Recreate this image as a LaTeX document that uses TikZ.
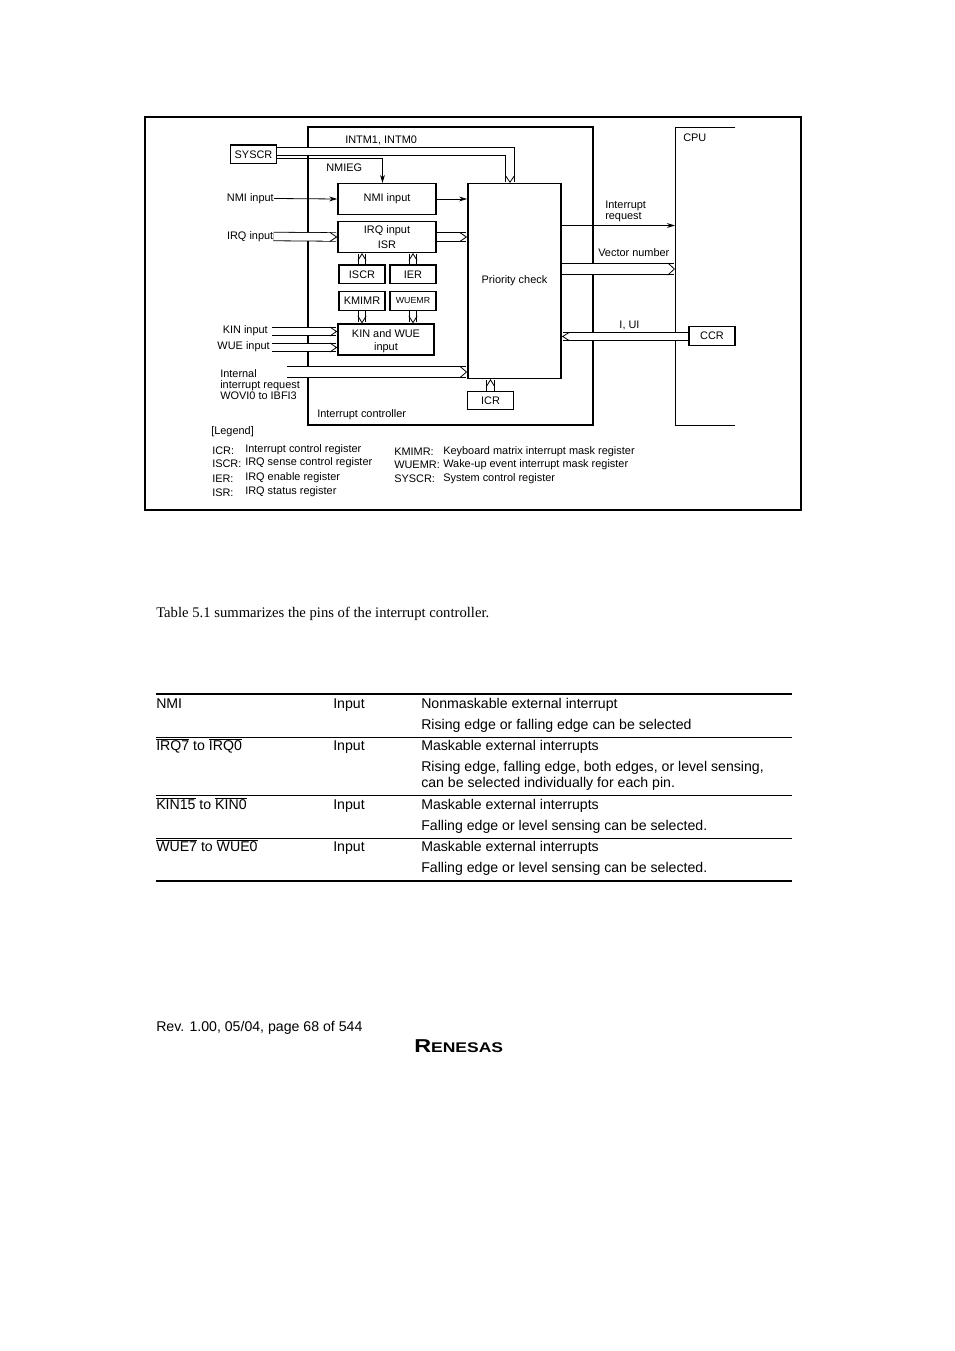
\documentclass[tikz,border=0pt]{standalone}
\usepackage{fontspec}
\setmainfont{Liberation Sans}
\newfontfamily\pageserif{Liberation Serif}
\usetikzlibrary{positioning, arrows.meta}

\begin{document}
\begin{tikzpicture}[x=0.75pt, y=-0.75pt, font=\fontsize{8.2}{8.2}\selectfont, >={Stealth[length=6pt, width=3.6pt]},
    regbox/.style={draw, line width=1pt, inner sep=0pt, minimum width=34.5pt, minimum height=14pt},
    blockbox/.style={draw, line width=1.1pt, inner sep=0pt, align=center},
    lbl/.style={inner sep=0pt, align=left},
    bus/.style={line width=0.6pt, double, double distance=#1, -{Straight Barb[length=5pt, width=#1+1pt]}},
    rowtext/.style={anchor=base west, inner sep=0pt, font=\fontsize{10.6}{10.6}\selectfont}]
  \useasboundingbox (0,0) rectangle (954,1351);
  % Frames
  \draw[line width=1.1pt] (145,117) rectangle (801,510);
  \draw[line width=1.1pt] (308,127) rectangle (593,425);
  \draw[line width=0.7pt] (735,127) -- (675,127) -- (675,425) -- (735,425);
  % Blocks
  \node[regbox] (syscr) at (253.5,154.5) {SYSCR};
  \node[blockbox, minimum width=73.5pt, minimum height=23pt] (nmi) at (387,199) {NMI input};
  \node[blockbox, minimum width=73.5pt, minimum height=23pt] (irq) at (387,237) {};
  \node[lbl] (irqa) at (387,231) {IRQ input};
  \node[lbl] (isr) at (387,245) {ISR};
  \node[regbox] (iscr) at (362,274.5) {ISCR};
  \node[regbox] (ier) at (413,274.5) {IER};
  \node[regbox] (kmimr) at (362,301) {KMIMR};
  \node[regbox, font=\fontsize{6.6}{6.6}\selectfont] (wuemr) at (413,301) {WUEMR};
  \node[blockbox, minimum width=72pt, minimum height=23pt] (kin) at (386,339.5) {};
  \node[lbl] (kina) at (386,334) {KIN and WUE};
  \node[lbl] (kinb) at (386,347.5) {input};
  \node[blockbox, minimum width=70pt, minimum height=146pt] (prio) at (514.5,281) {Priority check};
  \node[regbox, line width=0.9pt] (icr) at (490.5,400.5) {ICR};
  \node[regbox, line width=1pt] (ccr) at (712,336) {CCR};
  % Labels
  \node[lbl, anchor=west] (intm) at (345,140) {INTM1, INTM0};
  \node[lbl, anchor=west] (nmieg) at (326,168) {NMIEG};
  \node[lbl, anchor=east] (nmil) at (274,198.5) {NMI input};
  \node[lbl, anchor=east] (irql) at (273.5,236.5) {IRQ input};
  \node[lbl, anchor=east] (kinl) at (268,331) {KIN input};
  \node[lbl, anchor=east] (wuel) at (270,347) {WUE input};
  \node[lbl, anchor=west] (intl) at (220,385) {Internal\\interrupt request\\WOVI0 to IBFI3};
  \node[lbl, anchor=west] (ctrl) at (317,415) {Interrupt controller};
  \node[lbl, anchor=west] (cpu) at (683,138) {CPU};
  \node[lbl, anchor=west] (req) at (605,211.5) {Interrupt\\request};
  \node[lbl, anchor=west] (vec) at (598,252.5) {Vector number};
  \node[lbl] (iui) at (629.5,325) {I, UI};
  % Free ends
  \coordinate (busend) at (287,372);
  \coordinate (vecy) at (0,269);
  \coordinate (reqy) at (0,225.5);
  \coordinate (iuiy) at (0,336.5);
  \coordinate (intmx) at (510,151.5);
  \coordinate (nmiegy) at (0,158.5);
  % Thin arrows
  \draw[->, line width=0.6pt] (nmil.east) -- (nmi.west);
  \draw[->, line width=0.6pt] (nmi.east) -- (nmi.east -| prio.west);
  \draw[->, line width=0.6pt] (prio.east |- reqy) -- (675,225.5);
  \draw[->, line width=0.6pt] (syscr.east |- nmiegy) -| (nmi.north -| 382.5,0);
  % Buses
  \draw[bus=5.8pt] (syscr.east |- intmx) -| (intmx |- prio.north);
  \draw[bus=5.8pt] (irql.east) -- (irq.west);
  \draw[bus=5.8pt] (irq.east) -- (irq.east -| prio.west);
  \draw[bus=5.2pt] (iscr.north) -- (iscr.north |- irq.south);
  \draw[bus=5.2pt] (ier.north) -- (ier.north |- irq.south);
  \draw[bus=5.2pt] (kmimr.south) -- (kmimr.south |- kin.north);
  \draw[bus=5.2pt] (wuemr.south) -- (wuemr.south |- kin.north);
  \draw[bus=5.8pt] (272,331.5) -- (kin.west |- 0,331.5);
  \draw[bus=5.8pt] (272,347.5) -- (kin.west |- 0,347.5);
  \draw[bus=7.6pt] (busend) -- (busend -| prio.west);
  \draw[bus=8.2pt] (prio.east |- vecy) -- (675,269);
  \draw[bus=5.2pt] (ccr.west |- iuiy) -- (prio.east |- iuiy);
  \draw[bus=5.2pt] (icr.north) -- (icr.north |- prio.south);
  % Legend
  \node[lbl, anchor=west] (legend) at (211,432) {[Legend]};
  \foreach \r/\t/\yr/\yt/\n in {ICR:/Interrupt control register/451/449.5/a, ISCR:/IRQ sense control register/464/463/b, IER:/IRQ enable register/479/478/c, ISR:/IRQ status register/493/492/d}{
    \node[lbl, anchor=west] (reg\n) at (212,\yr) {\r};
    \node[lbl, anchor=west] (txt\n) at (245,\yt) {\t};
  }
  \foreach \r/\t/\yy/\n in {KMIMR:/Keyboard matrix interrupt mask register/451.5/e, WUEMR:/Wake-up event interrupt mask register/465/f, SYSCR:/System control register/479/g}{
    \node[lbl, anchor=west] (reg\n) at (394,\yy) {\r};
    \node[lbl, anchor=west] (txt\n) at (443,\yy) {\t};
  }
  % Page text
  \node[rowtext, font=\pageserif\fontsize{11}{11}\selectfont] (intro) at (156,617) {Table 5.1 summarizes the pins of the interrupt controller.};
  % Table
  \foreach \yy/\w in {694/1.2pt, 737.5/0.7pt, 795.5/0.7pt, 838.5/0.7pt, 881/1.2pt}{
    \draw[line width=\w] (155.5,\yy) -- (792,\yy);
  }
  \foreach \p/\yy/\n in {NMI/708.5/a, {$\overline{\mbox{IRQ7}}$ to $\overline{\mbox{IRQ0}}$}/750.5/b, {$\overline{\mbox{KIN15}}$ to $\overline{\mbox{KIN0}}$}/809.5/c, {$\overline{\mbox{WUE7}}$ to $\overline{\mbox{WUE0}}$}/851.5/d}{
    \node[rowtext] (pin\n) at (156,\yy) {\p};
    \node[rowtext] (dir\n) at (333,\yy) {Input};
  }
  \foreach \t/\yy/\n in {Nonmaskable external interrupt/708.5/a, Rising edge or falling edge can be selected/729.5/b, Maskable external interrupts/750.5/c, {Rising edge, falling edge, both edges, or level sensing,}/771.5/d, can be selected individually for each pin./787.5/e, Maskable external interrupts/809.5/f, Falling edge or level sensing can be selected./830.5/g, Maskable external interrupts/851.5/h, Falling edge or level sensing can be selected./872.5/i}{
    \node[rowtext] (fun\n) at (421,\yy) {\t};
  }
  % Footer
  \node[rowtext] (rev) at (156,1031) {Rev. 1.00, 05/04, page 68 of 544};
  \node[inner sep=0pt, anchor=base west, xscale=1.25, font=\bfseries\fontsize{10.5}{10.5}\selectfont] (logo) at (414,1052) {{\fontsize{14}{14}\selectfont R}ENESAS};
\end{tikzpicture}
\end{document}
